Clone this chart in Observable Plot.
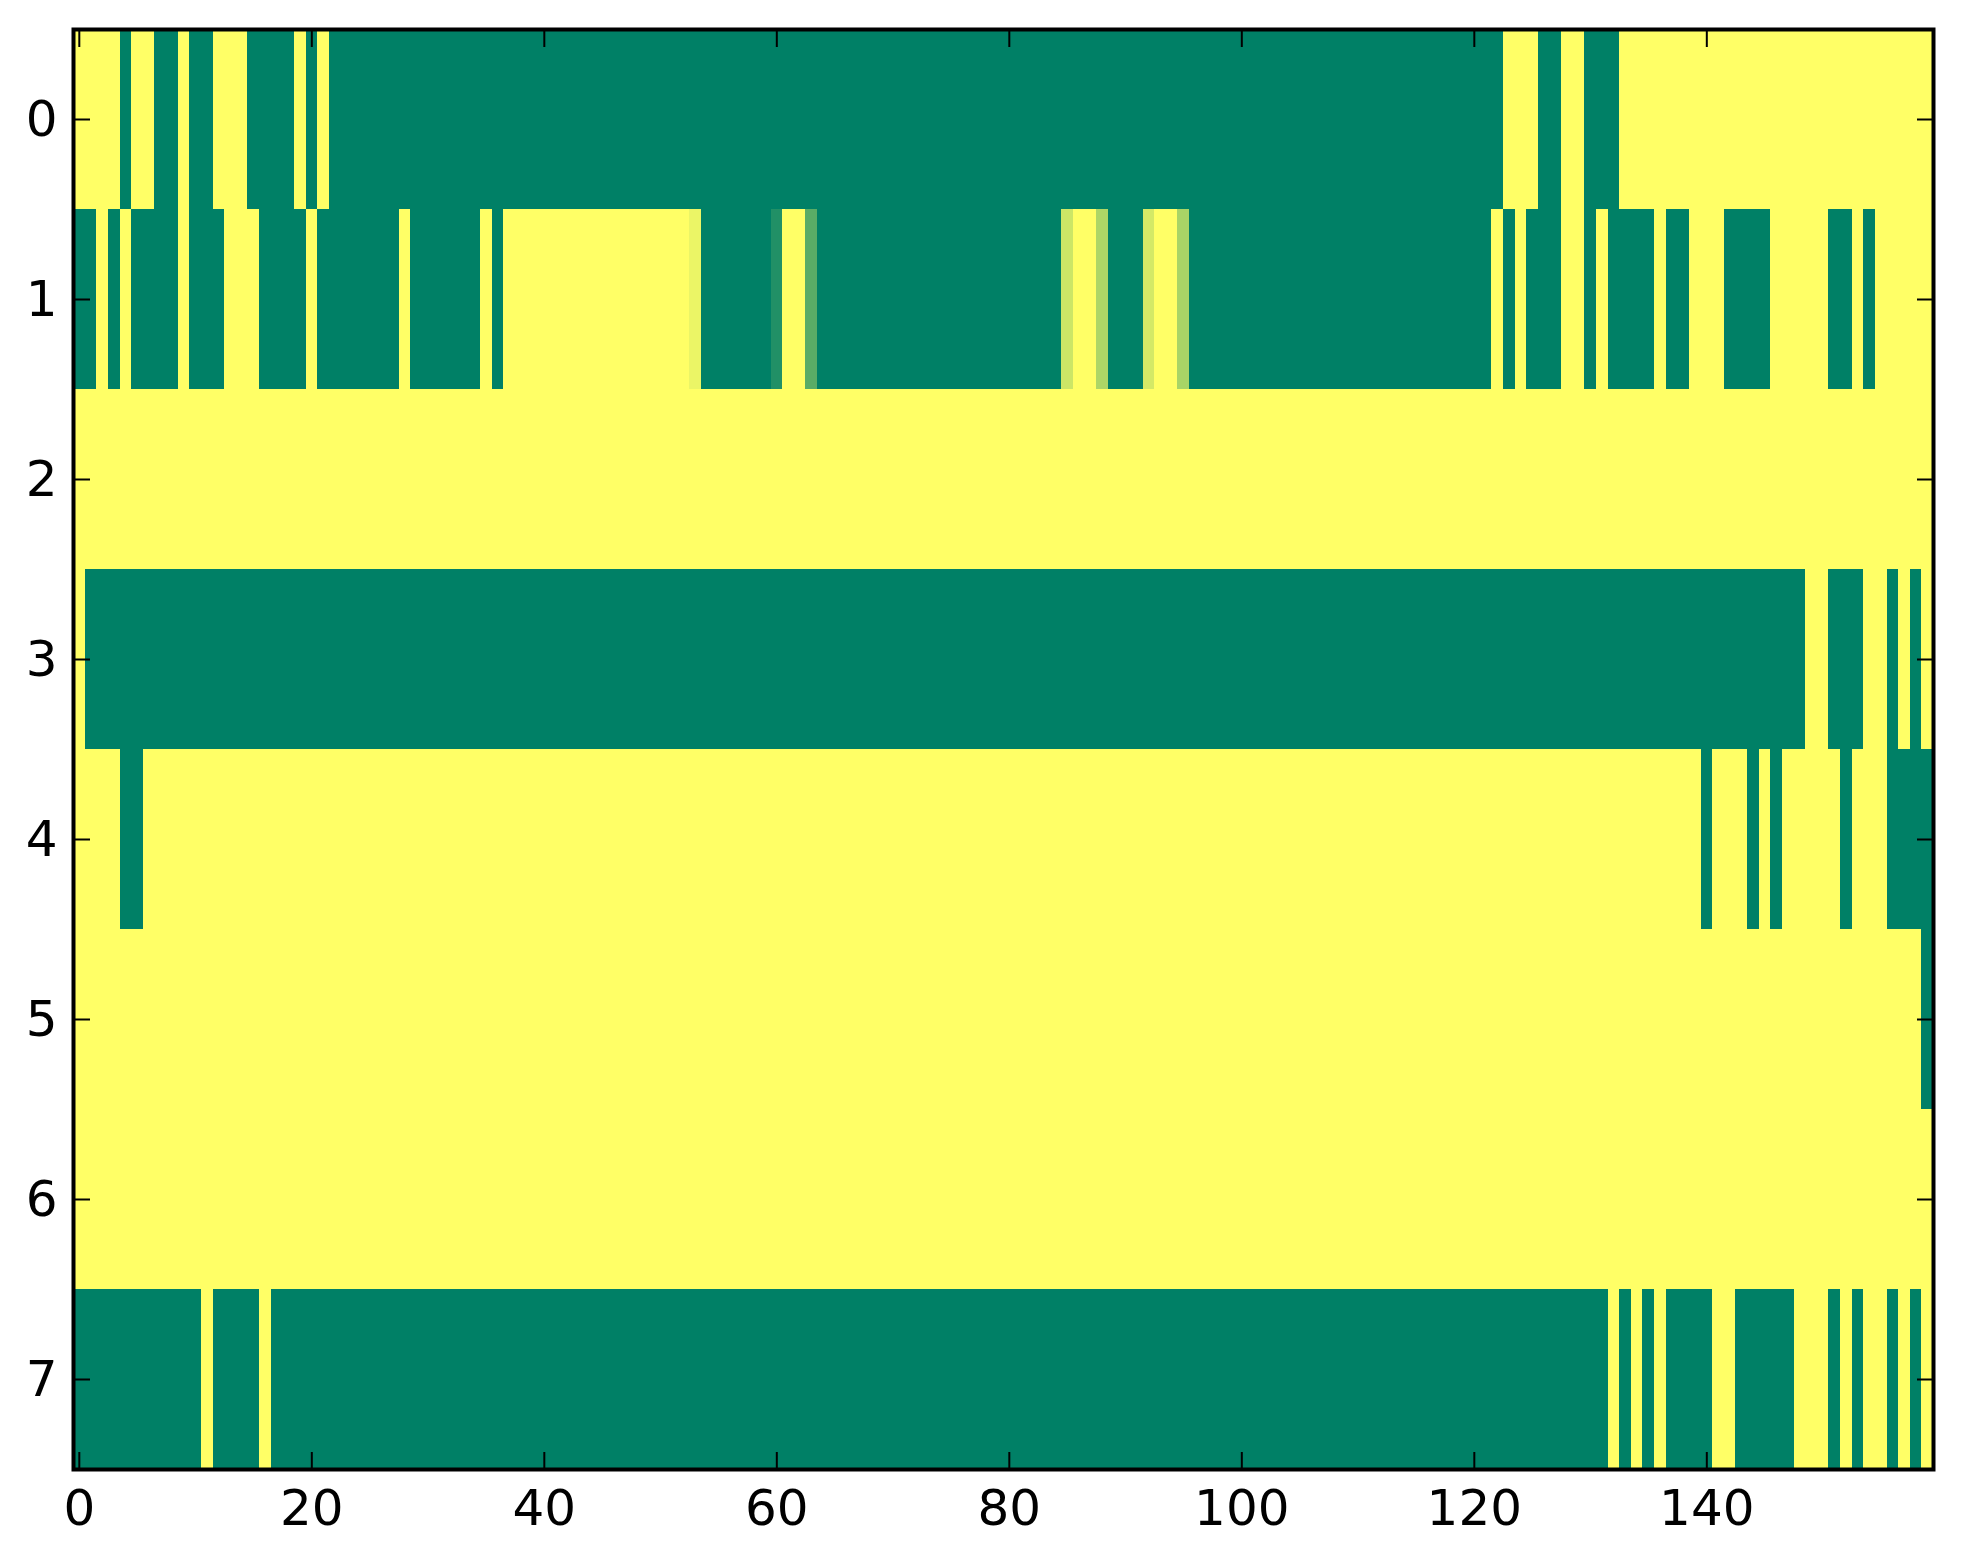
<!DOCTYPE html>
<html>
<head>
<meta charset="utf-8">
<script src="https://cdn.jsdelivr.net/npm/d3@7"></script>
<script src="https://cdn.jsdelivr.net/npm/@observablehq/plot@0.6"></script>
<style>
  body { margin: 0; background: #fff; }
  #chart svg { display: block; }
</style>
</head>
<body>
<div id="chart"></div>
<script>
// one array per image row, 160 columns each (1 = yellow, 0 = green)
const row0 = [1,1,1,1,0,1,1,0,0,1, 0,0,1,1,1,0,0,0,0,1, 0,1,0,0,0,0,0,0,0,0, 0,0,0,0,0,0,0,0,0,0,
  0,0,0,0,0,0,0,0,0,0, 0,0,0,0,0,0,0,0,0,0, 0,0,0,0,0,0,0,0,0,0, 0,0,0,0,0,0,0,0,0,0,
  0,0,0,0,0,0,0,0,0,0, 0,0,0,0,0,0,0,0,0,0, 0,0,0,0,0,0,0,0,0,0, 0,0,0,0,0,0,0,0,0,0,
  0,0,0,1,1,1,0,0,1,1, 0,0,0,1,1,1,1,1,1,1, 1,1,1,1,1,1,1,1,1,1, 1,1,1,1,1,1,1,1,1,1]
const row1 = [0,0,1,0,1,0,0,0,0,1, 0,0,0,1,1,1,0,0,0,0, 1,0,0,0,0,0,0,0,1,0, 0,0,0,0,0,1,0,1,1,1,
  1,1,1,1,1,1,1,1,1,1, 1,1,1,0.92,0,0,0,0,0,0, 0.13,1,1,0.35,0,0,0,0,0,0, 0,0,0,0,0,0,0,0,0,0,
  0,0,0,0,0,0.8,1,1,0.68,0, 0,0,0.83,1,1,0.66,0,0,0,0, 0,0,0,0,0,0,0,0,0,0, 0,0,0,0,0,0,0,0,0,0,
  0,0,1,0,1,0,0,0,1,1, 0,1,0,0,0,0,1,0,0,1, 1,1,0,0,0,0,1,1,1,1, 1,0,0,1,0,1,1,1,1,1]
const row2 = [1,1,1,1,1,1,1,1,1,1, 1,1,1,1,1,1,1,1,1,1, 1,1,1,1,1,1,1,1,1,1, 1,1,1,1,1,1,1,1,1,1,
  1,1,1,1,1,1,1,1,1,1, 1,1,1,1,1,1,1,1,1,1, 1,1,1,1,1,1,1,1,1,1, 1,1,1,1,1,1,1,1,1,1,
  1,1,1,1,1,1,1,1,1,1, 1,1,1,1,1,1,1,1,1,1, 1,1,1,1,1,1,1,1,1,1, 1,1,1,1,1,1,1,1,1,1,
  1,1,1,1,1,1,1,1,1,1, 1,1,1,1,1,1,1,1,1,1, 1,1,1,1,1,1,1,1,1,1, 1,1,1,1,1,1,1,1,1,1]
const row3 = [1,0,0,0,0,0,0,0,0,0, 0,0,0,0,0,0,0,0,0,0, 0,0,0,0,0,0,0,0,0,0, 0,0,0,0,0,0,0,0,0,0,
  0,0,0,0,0,0,0,0,0,0, 0,0,0,0,0,0,0,0,0,0, 0,0,0,0,0,0,0,0,0,0, 0,0,0,0,0,0,0,0,0,0,
  0,0,0,0,0,0,0,0,0,0, 0,0,0,0,0,0,0,0,0,0, 0,0,0,0,0,0,0,0,0,0, 0,0,0,0,0,0,0,0,0,0,
  0,0,0,0,0,0,0,0,0,0, 0,0,0,0,0,0,0,0,0,0, 0,0,0,0,0,0,0,0,0,1, 1,0,0,0,1,1,0,1,0,1]
const row4 = [1,1,1,1,0,0,1,1,1,1, 1,1,1,1,1,1,1,1,1,1, 1,1,1,1,1,1,1,1,1,1, 1,1,1,1,1,1,1,1,1,1,
  1,1,1,1,1,1,1,1,1,1, 1,1,1,1,1,1,1,1,1,1, 1,1,1,1,1,1,1,1,1,1, 1,1,1,1,1,1,1,1,1,1,
  1,1,1,1,1,1,1,1,1,1, 1,1,1,1,1,1,1,1,1,1, 1,1,1,1,1,1,1,1,1,1, 1,1,1,1,1,1,1,1,1,1,
  1,1,1,1,1,1,1,1,1,1, 1,1,1,1,1,1,1,1,1,1, 0,1,1,1,0,1,0,1,1,1, 1,1,0,1,1,1,0,0,0,0]
const row5 = [1,1,1,1,1,1,1,1,1,1, 1,1,1,1,1,1,1,1,1,1, 1,1,1,1,1,1,1,1,1,1, 1,1,1,1,1,1,1,1,1,1,
  1,1,1,1,1,1,1,1,1,1, 1,1,1,1,1,1,1,1,1,1, 1,1,1,1,1,1,1,1,1,1, 1,1,1,1,1,1,1,1,1,1,
  1,1,1,1,1,1,1,1,1,1, 1,1,1,1,1,1,1,1,1,1, 1,1,1,1,1,1,1,1,1,1, 1,1,1,1,1,1,1,1,1,1,
  1,1,1,1,1,1,1,1,1,1, 1,1,1,1,1,1,1,1,1,1, 1,1,1,1,1,1,1,1,1,1, 1,1,1,1,1,1,1,1,1,0]
const row6 = [1,1,1,1,1,1,1,1,1,1, 1,1,1,1,1,1,1,1,1,1, 1,1,1,1,1,1,1,1,1,1, 1,1,1,1,1,1,1,1,1,1,
  1,1,1,1,1,1,1,1,1,1, 1,1,1,1,1,1,1,1,1,1, 1,1,1,1,1,1,1,1,1,1, 1,1,1,1,1,1,1,1,1,1,
  1,1,1,1,1,1,1,1,1,1, 1,1,1,1,1,1,1,1,1,1, 1,1,1,1,1,1,1,1,1,1, 1,1,1,1,1,1,1,1,1,1,
  1,1,1,1,1,1,1,1,1,1, 1,1,1,1,1,1,1,1,1,1, 1,1,1,1,1,1,1,1,1,1, 1,1,1,1,1,1,1,1,1,1]
const row7 = [0,0,0,0,0,0,0,0,0,0, 0,1,0,0,0,0,1,0,0,0, 0,0,0,0,0,0,0,0,0,0, 0,0,0,0,0,0,0,0,0,0,
  0,0,0,0,0,0,0,0,0,0, 0,0,0,0,0,0,0,0,0,0, 0,0,0,0,0,0,0,0,0,0, 0,0,0,0,0,0,0,0,0,0,
  0,0,0,0,0,0,0,0,0,0, 0,0,0,0,0,0,0,0,0,0, 0,0,0,0,0,0,0,0,0,0, 0,0,0,0,0,0,0,0,0,0,
  0,0,0,0,0,0,0,0,0,0, 0,0,1,0,1,0,1,0,0,0, 0,1,1,0,0,0,0,0,1,1, 1,0,1,0,1,1,0,1,0,1]

const rows = [row0, row1, row2, row3, row4, row5, row6, row7]
const xTicks = [0, 20, 40, 60, 80, 100, 120, 140]
const yTicks = [0, 1, 2, 3, 4, 5, 6, 7]

// tabla larga: una celda por (fila, columna)
const cells = rows.flatMap((r, i) => r.map((v, j) => ({row: i, col: j, v})))

// colormap "summer" de matplotlib
const summer = t => `rgb(${Math.round(255 * t)},${Math.round(127.5 + 127.5 * t)},102)`

const font = '"DejaVu Sans", sans-serif'

const chart = Plot.plot({
  width: 1963,
  height: 1564,
  marginLeft: 73,
  marginRight: 30,
  marginTop: 29,
  marginBottom: 95,
  style: {fontFamily: font, fontSize: '50px', color: 'black', background: 'white'},
  x: {domain: [-0.5, 159.5]},
  y: {domain: [-0.5, 7.5], reverse: true},
  color: {type: 'linear', domain: [0, 1], interpolate: summer},
  marks: [
    Plot.rect(cells, {
      x1: d => d.col - 0.5,
      x2: d => d.col + 0.5,
      y1: d => d.row - 0.5,
      y2: d => d.row + 0.5,
      fill: 'v',
      shapeRendering: 'crispEdges',
    }),
    // ticks hacia adentro en los cuatro lados
    Plot.axisX({ticks: xTicks, anchor: 'bottom', tickSize: -17, tickFormat: () => '', strokeWidth: 2, label: null}),
    Plot.axisX({ticks: xTicks, anchor: 'top', tickSize: -17, tickFormat: () => '', strokeWidth: 2, label: null}),
    Plot.axisY({ticks: yTicks, anchor: 'left', tickSize: -17, tickFormat: () => '', strokeWidth: 2, label: null}),
    Plot.axisY({ticks: yTicks, anchor: 'right', tickSize: -17, tickFormat: () => '', strokeWidth: 2, label: null}),
    // etiquetas
    Plot.axisX({ticks: xTicks, anchor: 'bottom', tickSize: 0, tickPadding: 20, label: null, fontSize: 50}),
    Plot.axisY({ticks: yTicks, anchor: 'left', tickSize: 0, tickPadding: 16, label: null, fontSize: 50}),
    Plot.frame({stroke: 'black', strokeWidth: 4}),
  ],
})

d3.select('#chart').append(() => chart)
</script>
</body>
</html>
